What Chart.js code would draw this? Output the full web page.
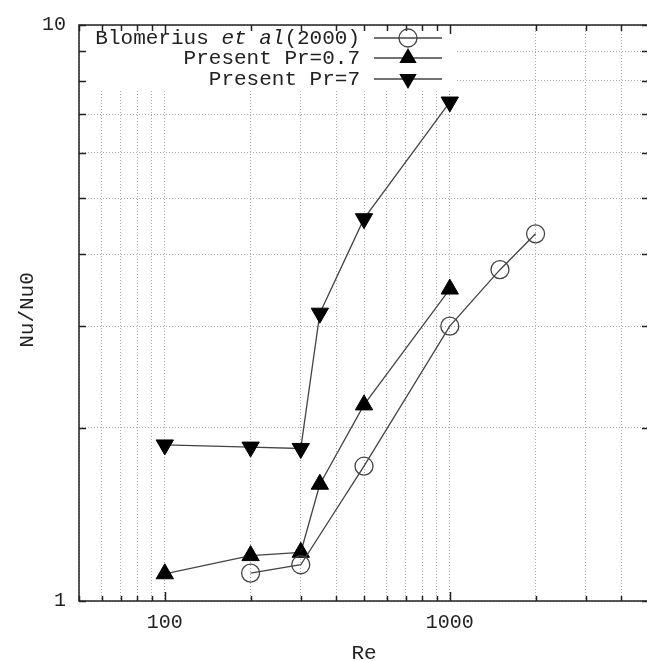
<!DOCTYPE html>
<html>
<head>
<meta charset="utf-8">
<script src="https://cdn.jsdelivr.net/npm/chart.js@4"></script>
<style>
  html, body { margin: 0; padding: 0; background: #fff; overflow: hidden; }
  #wrap { position: absolute; left: 0; top: 0; width: 660px; height: 661px; }
</style>
</head>
<body>
<div id="wrap"><canvas id="grafico" width="660" height="661"></canvas></div>
<script>
// Re values and Nu/Nu0
const reBlom = [200, 300, 500, 1000, 1500, 2000];
const nuBlom = [1.118, 1.156, 1.714, 3.00, 3.76, 4.34];
const rePres = [100, 200, 300, 350, 500, 1000];
const nuPr07 = [1.115, 1.199, 1.215, 1.595, 2.19, 3.48];
const nuPr7 = [1.866, 1.85, 1.84, 3.16, 4.61, 7.35];

// grid / tick positions and the ones that get a label
const xTicks = [50, 60, 70, 80, 90, 100, 200, 300, 400, 500, 600, 700, 800, 900, 1000, 2000, 3000, 4000, 5000];
const yTicks = [1, 2, 3, 4, 5, 6, 7, 8, 9, 10];
const xLabels = [100, 1000];
const yLabels = [1, 10];

const FONT = '"Liberation Mono", "DejaVu Sans Mono", monospace';
const lineCol = '#444';

function pts(xs, ys) {
    return xs.map((x, i) => ({x: x, y: ys[i]}));
}

function marker(ctx, kind, x, y) {
    ctx.save();
    ctx.lineWidth = 1.3;
    if (kind === 'circle') {
        ctx.strokeStyle = lineCol;
        ctx.beginPath();
        ctx.arc(x, y, 9, 0, Math.PI * 2);
        ctx.stroke();
    } else {
        const r = 10;
        const s = kind === 'up' ? 1 : -1;
        ctx.fillStyle = '#000';
        ctx.beginPath();
        ctx.moveTo(x, y - s * r);
        ctx.lineTo(x + r * 0.866, y + s * r / 2);
        ctx.lineTo(x - r * 0.866, y + s * r / 2);
        ctx.closePath();
        ctx.fill();
    }
    ctx.restore();
}

const frame = {
    id: 'frame',
    beforeDatasetsDraw(chart) {
        // legend box hides the grid behind it
        const ctx = chart.ctx;
        const a = chart.chartArea;
        ctx.save();
        ctx.fillStyle = '#fff';
        ctx.fillRect(a.left + 1, a.top + 1, 454 - a.left, 90 - a.top);
        ctx.restore();
    },
    afterDraw(chart) {
        const ctx = chart.ctx;
        const a = chart.chartArea;
        const xs = chart.scales.x;
        const ys = chart.scales.y;
        ctx.save();
        ctx.strokeStyle = '#222';
        ctx.lineWidth = 1.5;
        // inward ticks
        ctx.beginPath();
        xs.ticks.forEach(t => {
            const px = Math.round(xs.getPixelForValue(t.value)) + 0.5;
            const major = Math.abs(Math.log10(t.value) % 1) < 1e-9;
            ctx.moveTo(px, a.bottom);
            ctx.lineTo(px, a.bottom - (major ? 9 : 5));
            ctx.moveTo(px, a.top);
            ctx.lineTo(px, a.top + (major ? 9 : 6));
        });
        ys.ticks.forEach(t => {
            const py = Math.round(ys.getPixelForValue(t.value)) + 0.5;
            ctx.moveTo(a.left, py);
            ctx.lineTo(a.left + 7, py);
            ctx.moveTo(a.right, py);
            ctx.lineTo(a.right - 7, py);
        });
        ctx.stroke();
        ctx.strokeRect(a.left, a.top, a.right - a.left, a.bottom - a.top);

        // axis titles
        ctx.fillStyle = '#222';
        ctx.font = '21px ' + FONT;
        ctx.textAlign = 'center';
        ctx.textBaseline = 'middle';
        ctx.fillText('Re', (a.left + a.right) / 2, 653);
        ctx.save();
        ctx.translate(27, 310);
        ctx.rotate(-Math.PI / 2);
        ctx.fillText('Nu/Nu0', 0, 0);
        ctx.restore();

        // legend
        const textRight = 360;
        const rows = [38, 58, 79];
        ctx.textAlign = 'left';
        const reg = '21px ' + FONT;
        const ita = 'italic 21px ' + FONT;
        const parts = [['Blomerius ', reg], ['et al', ita], ['(2000)', reg]];
        let w = 0;
        parts.forEach(p => { ctx.font = p[1]; w += ctx.measureText(p[0]).width; });
        let x = textRight - w;
        parts.forEach(p => {
            ctx.font = p[1];
            ctx.fillText(p[0], x, rows[0]);
            x += ctx.measureText(p[0]).width;
        });
        ctx.font = reg;
        ctx.textAlign = 'right';
        ctx.fillText('Present Pr=0.7', textRight, rows[1]);
        ctx.fillText('Present Pr=7', textRight, rows[2]);

        ctx.strokeStyle = lineCol;
        ctx.lineWidth = 1.3;
        rows.forEach(ry => {
            ctx.beginPath();
            ctx.moveTo(374, ry);
            ctx.lineTo(442, ry);
            ctx.stroke();
        });
        marker(ctx, 'circle', 408, rows[0]);
        marker(ctx, 'up', 408, rows[1]);
        marker(ctx, 'down', 408, rows[2]);
        ctx.restore();
    }
};

const ctx = document.getElementById('grafico');

new Chart(ctx, {
    type: 'line',
    data: {
        datasets: [
            {
                label: 'Blomerius et al(2000)',
                data: pts(reBlom, nuBlom),
                borderColor: lineCol,
                borderWidth: 1.3,
                pointStyle: 'circle',
                pointRadius: 9,
                pointBorderWidth: 1.3,
                pointBackgroundColor: 'rgba(0,0,0,0)',
                pointBorderColor: lineCol
            },
            {
                label: 'Present Pr=0.7',
                data: pts(rePres, nuPr07),
                borderColor: lineCol,
                borderWidth: 1.3,
                pointStyle: 'triangle',
                pointRadius: 10,
                pointBorderWidth: 1,
                pointBackgroundColor: '#000',
                pointBorderColor: '#000'
            },
            {
                label: 'Present Pr=7',
                data: pts(rePres, nuPr7),
                borderColor: lineCol,
                borderWidth: 1.3,
                pointStyle: 'triangle',
                pointRotation: 180,
                pointRadius: 10,
                pointBorderWidth: 1,
                pointBackgroundColor: '#000',
                pointBorderColor: '#000'
            }
        ]
    },
    options: {
        responsive: false,
        animation: false,
        devicePixelRatio: 1,
        layout: { padding: { left: 0, top: 17, right: 8, bottom: 0 } },
        elements: { line: { tension: 0 } },
        plugins: {
            legend: { display: false },
            tooltip: { enabled: false }
        },
        scales: {
            x: {
                type: 'logarithmic',
                min: 50,
                max: 5000,
                afterBuildTicks(s) { s.ticks = xTicks.map(v => ({value: v})); },
                afterFit(s) { s.height = 60; },
                grid: { color: '#aaa', lineWidth: 1, drawTicks: false },
                border: { display: false, dash: [1, 2] },
                ticks: {
                    autoSkip: false,
                    maxRotation: 0,
                    padding: 10,
                    color: '#222',
                    font: { family: FONT, size: 20 },
                    callback: v => xLabels.includes(v) ? String(v) : ''
                }
            },
            y: {
                type: 'logarithmic',
                min: 1,
                max: 10,
                afterBuildTicks(s) { s.ticks = yTicks.map(v => ({value: v})); },
                afterFit(s) { s.width = 79; },
                grid: { color: '#aaa', lineWidth: 1, drawTicks: false },
                border: { display: false, dash: [1, 2] },
                ticks: {
                    autoSkip: false,
                    padding: 13,
                    color: '#222',
                    font: { family: FONT, size: 20 },
                    callback: v => yLabels.includes(v) ? String(v) : ''
                }
            }
        }
    },
    plugins: [frame]
});
</script>
</body>
</html>
